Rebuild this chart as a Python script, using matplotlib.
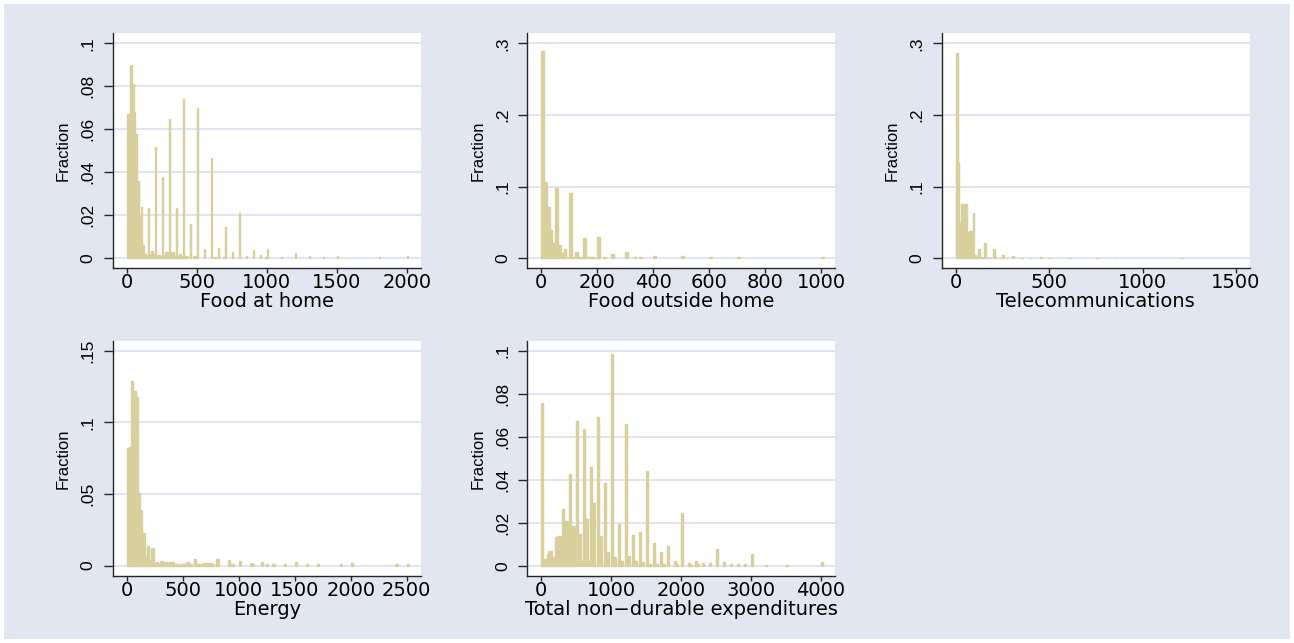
import matplotlib
matplotlib.use("Agg")
import matplotlib.pyplot as plt
from matplotlib.patches import Rectangle

# Histogram bins: left edge of each non-empty bin and its fraction

# Food at home, bin width 12.5
home_left = [0, 12.5, 25, 37.5, 50, 62.5, 75, 87.5, 100, 112.5, 125, 137.5,
             150, 162.5, 175, 187.5, 200, 212.5, 225, 237.5, 250, 262.5, 275, 287.5,
             300, 312.5, 325, 337.5, 350, 362.5, 375, 387.5, 400, 412.5, 425,
             450, 475, 487.5, 500, 550, 600, 625, 650, 687.5, 700, 750, 800,
             850, 900, 950, 987.5, 1000, 1100, 1200, 1300, 1400, 1500, 1800, 2000]
home_frac = [0.067, 0.067, 0.090, 0.081, 0.068, 0.058, 0.036, 0.019, 0.024, 0.006, 0.002, 0.001,
             0.0236, 0.0016, 0.0034, 0.002, 0.052, 0.0016, 0.0016, 0.001, 0.0377, 0.001, 0.003, 0.003,
             0.065, 0.003, 0.003, 0.001, 0.0236, 0.001, 0.002, 0.001, 0.074, 0.001, 0.001,
             0.016, 0.001, 0.001, 0.070, 0.0043, 0.0465, 0.0005, 0.005, 0.0005, 0.0146, 0.003, 0.021,
             0.001, 0.0037, 0.0014, 0.0007, 0.0043, 0.0006, 0.0025, 0.001, 0.0006, 0.0011, 0.0006, 0.0011]

# Food outside home, bin width 10
out_left = [0, 10, 20, 30, 40, 50, 60, 70, 80, 90, 100, 110, 120, 130, 140, 150,
            160, 170, 180, 190, 200, 220, 250, 300, 330, 350, 400, 500, 600, 700, 1000]
out_frac = [0.289, 0.106, 0.0716, 0.040, 0.021, 0.0986, 0.019, 0.008, 0.0135, 0.0014, 0.0916,
            0.0014, 0.0084, 0.0014, 0.0014, 0.0279, 0.0014, 0.0014, 0.0014, 0.0007, 0.0293,
            0.0014, 0.0065, 0.0093, 0.0014, 0.002, 0.0033, 0.0033, 0.0014, 0.0014, 0.0014]

# Telecommunications, bin width 10
tel_left = [0, 10, 20, 30, 40, 50, 60, 70, 80, 90, 100, 110, 120, 130, 140, 150, 160,
            170, 180, 200, 210, 230, 250, 270, 300, 350, 400, 450, 500, 600, 700, 750,
            850, 1000, 1200]
tel_frac = [0.287, 0.133, 0.049, 0.0758, 0.0758, 0.0758, 0.037, 0.0386, 0.0386, 0.063, 0.004,
            0.002, 0.0135, 0.002, 0.001, 0.021, 0.001, 0.001, 0.001, 0.0135, 0.001, 0.001,
            0.005, 0.001, 0.003, 0.001, 0.001, 0.002, 0.001, 0.0007, 0.0007, 0.0007,
            0.0007, 0.0007, 0.0007]

# Energy, bin width 20
en_left = [0, 20, 40, 60, 80, 100, 120, 140, 160, 180, 200, 220, 240, 260, 280, 300,
           320, 340, 360, 380, 400, 420, 440, 460, 480, 500, 520, 540, 560, 600, 620,
           640, 660, 680, 700, 720, 740, 760, 800, 900, 920, 940, 1000, 1100, 1120,
           1200, 1240, 1300, 1400, 1500, 1600, 1700, 1900, 2000, 2400, 2500]
en_frac = [0.082, 0.083, 0.129, 0.122, 0.118, 0.051, 0.039, 0.023, 0.007, 0.014, 0.004,
           0.012, 0.002, 0.0028, 0.001, 0.0033, 0.0026, 0.0026, 0.002, 0.0023, 0.0023,
           0.001, 0.001, 0.0008, 0.001, 0.0012, 0.0016, 0.0026, 0.001, 0.0049, 0.001,
           0.001, 0.0015, 0.0016, 0.0016, 0.0016, 0.0016, 0.001, 0.0044, 0.0037, 0.001,
           0.001, 0.003, 0.0016, 0.001, 0.0026, 0.001, 0.001, 0.001, 0.0026, 0.001,
           0.001, 0.001, 0.002, 0.001, 0.001]

# Total non-durable expenditures, bin width 25
tot_left = [0, 25, 50, 75, 100, 125, 150, 175, 200, 225, 250, 275, 300, 325, 350, 375,
            400, 425, 450, 475, 500, 525, 550, 575, 600, 625, 650, 675, 700, 725, 750,
            800, 825, 850, 900, 925, 950, 1000, 1025, 1050, 1100, 1125, 1150, 1200,
            1225, 1250, 1300, 1325, 1350, 1400, 1425, 1450, 1500, 1525, 1550, 1600,
            1625, 1650, 1700, 1725, 1750, 1800, 1900, 1925, 2000, 2100, 2125, 2200,
            2225, 2300, 2400, 2500, 2600, 2700, 2800, 2900, 3000, 3200, 3500, 4000]
tot_frac = [0.0758, 0.003, 0.0033, 0.0053, 0.0068, 0.0068, 0.004, 0.004, 0.0133, 0.0138,
            0.0138, 0.004, 0.0264, 0.021, 0.021, 0.002, 0.0426, 0.0186, 0.0186, 0.002,
            0.0674, 0.0147, 0.0147, 0.002, 0.0636, 0.0217, 0.0217, 0.002, 0.0457, 0.029,
            0.029, 0.069, 0.014, 0.014, 0.0383, 0.0064, 0.0064, 0.0983, 0.0039, 0.0039,
            0.0194, 0.002, 0.002, 0.0659, 0.0045, 0.0045, 0.0143, 0.002, 0.002, 0.0157,
            0.0017, 0.0017, 0.0442, 0.001, 0.001, 0.0107, 0.001, 0.001, 0.0064, 0.0007,
            0.0007, 0.0093, 0.0023, 0.0007, 0.0247, 0.0012, 0.0005, 0.002, 0.0007,
            0.0014, 0.0014, 0.0078, 0.0017, 0.0006, 0.0006, 0.001, 0.0054, 0.0005,
            0.0005, 0.0019]

# axis ticks
home_xticks = [0, 500, 1000, 1500, 2000]
out_xticks = [0, 200, 400, 600, 800, 1000]
tel_xticks = [0, 500, 1000, 1500]
en_xticks = [0, 500, 1000, 1500, 2000, 2500]
tot_xticks = [0, 1000, 2000, 3000, 4000]

yt_small = [0, 0.02, 0.04, 0.06, 0.08, 0.1]
yl_small = ["0", ".02", ".04", ".06", ".08", ".1"]
yt_big = [0, 0.1, 0.2, 0.3]
yl_big = ["0", ".1", ".2", ".3"]
yt_en = [0, 0.05, 0.1, 0.15]
yl_en = ["0", ".05", ".1", ".15"]

BAR = "#d8d09c"
BG = "#e1e6f0"
GRID = "#d9e0f2"
AXC = "#262626"

W, H = 1294, 643
fig = plt.figure(figsize=(W / 100, H / 100), dpi=100)
fig.patch.set_facecolor("white")
fig.patches.append(Rectangle((4 / W, 4 / H), 1 - 8 / W, 1 - 8 / H,
                             transform=fig.transFigure, facecolor=BG,
                             edgecolor="none", zorder=-10))

panels = [
    # (box px: left, top, right, bottom), data, width, xticks, yticks, ylabels, xlim, ylim, xlabel
    ((112.7, 33.3, 420.7, 267.7), home_left, home_frac, 12.5, home_xticks,
     yt_small, yl_small, (-100, 2100), (-0.0044, 0.1047), "Food at home"),
    ((527.3, 33.3, 835, 267.7), out_left, out_frac, 10, out_xticks,
     yt_big, yl_big, (-50, 1050), (-0.0131, 0.314), "Food outside home"),
    ((941.7, 33.3, 1250, 267.7), tel_left, tel_frac, 10, tel_xticks,
     yt_big, yl_big, (-75, 1575), (-0.0131, 0.314), "Telecommunications"),
    ((112.7, 341, 420.7, 575.7), en_left, en_frac, 20, en_xticks,
     yt_en, yl_en, (-125, 2625), (-0.007, 0.1568), "Energy"),
    ((527.3, 341, 835, 575.7), tot_left, tot_frac, 25, tot_xticks,
     yt_small, yl_small, (-200, 4200), (-0.00465, 0.1045), "Total non\u2212durable expenditures"),
]

for box, left, frac, bw, xt, yt, yl, xlim, ylim, xlabel in panels:
    l, t, r, b = box
    ax = fig.add_axes([l / W, 1 - b / H, (r - l) / W, (b - t) / H])
    ax.set_facecolor("white")
    ax.bar(left, frac, width=bw, align="edge", color=BAR, edgecolor=BAR,
           linewidth=1.0, zorder=2)
    for y in yt:
        ax.axhline(y, color=GRID, linewidth=1.2, zorder=1)
    ax.set_xlim(*xlim)
    ax.set_ylim(*ylim)
    ax.set_xticks(xt)
    ax.set_xticklabels([str(v) for v in xt], family="DejaVu Sans", fontsize=14)
    ax.set_yticks(yt)
    ax.set_yticklabels(yl, family="Liberation Sans", fontsize=12.5,
                       rotation=90, va="center", ha="right")
    for s in ["top", "right"]:
        ax.spines[s].set_visible(False)
    for s in ["left", "bottom"]:
        ax.spines[s].set_color(AXC)
        ax.spines[s].set_linewidth(1.0)
    ax.tick_params(axis="x", direction="out", length=3.6, width=1.0, color=AXC, pad=0.5)
    ax.tick_params(axis="y", direction="out", length=6.5, width=1.0, color=AXC, pad=6)
    ax.set_xlabel(xlabel, family="DejaVu Sans", fontsize=14, labelpad=-0.5)
    ax.set_ylabel("Fraction", family="Liberation Sans", fontsize=12, labelpad=7)

fig.savefig("out.png", dpi=100, facecolor=fig.get_facecolor())
